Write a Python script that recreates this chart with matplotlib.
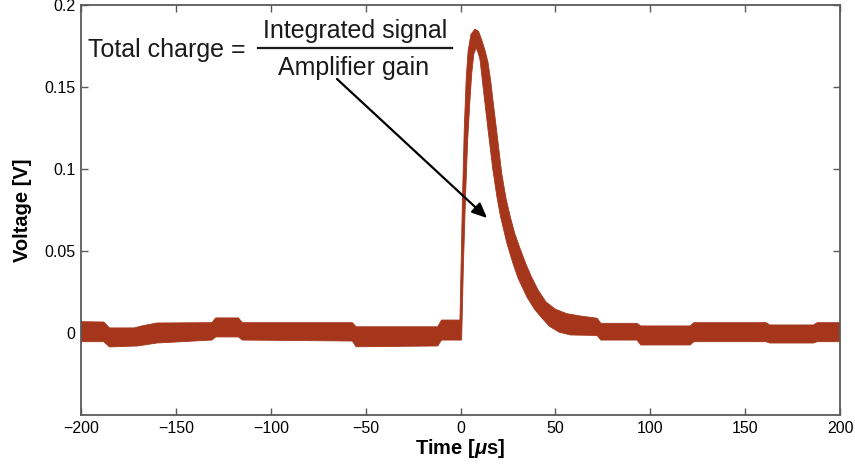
import matplotlib
matplotlib.use("Agg")
import matplotlib.pyplot as plt
from matplotlib.lines import Line2D

plt.rcParams['font.family'] = ['Liberation Sans', 'DejaVu Sans']
plt.rcParams['mathtext.fontset'] = 'custom'
plt.rcParams['mathtext.it'] = 'Liberation Sans:bold:italic'
plt.rcParams['mathtext.rm'] = 'Liberation Sans:bold'

# Upper and lower edges of the recorded pulse band (time in µs, voltage in V)
time_upper = [-200, -188, -185, -172, -168, -160, -131, -129, -117, -115, -57, -55,
              -12, -10, -0.3, 0.3, 1.0, 2.0, 3.0, 4.0, 5.5, 7.6, 9.5, 11.2, 13.0,
              14.5, 16.0, 17.1, 19.2, 21.7, 24.0, 26.1, 28.5, 31.4, 34.5, 37.5,
              41.0, 45.0, 50.0, 56.0, 63.0, 72.0, 74, 93, 95, 121, 123, 161, 163,
              186, 188, 200]
volt_upper = [0.0069, 0.0067, 0.0031, 0.0031, 0.0043, 0.0061, 0.0063, 0.0092,
              0.0092, 0.0063, 0.0063, 0.0038, 0.0038, 0.0079, 0.0079, 0.040,
              0.080, 0.125, 0.155, 0.172, 0.182, 0.1853, 0.184, 0.1787, 0.172,
              0.165, 0.153, 0.142, 0.122, 0.0975, 0.082, 0.0715, 0.061, 0.0515,
              0.042, 0.034, 0.026, 0.019, 0.0145, 0.0118, 0.0104, 0.009, 0.0059,
              0.0059, 0.0043, 0.0043, 0.0063, 0.0063, 0.0049, 0.0049, 0.0063,
              0.0063]

time_lower = [-200, -188, -185, -170, -160, -131, -129, -117, -115, -57, -55,
              -12, -10, 0.6, 1.5, 2.7, 3.8, 5.0, 5.9, 7.0, 8.3, 9.5, 10.3, 12.4,
              14.5, 17.0, 19.2, 21.0, 24.5, 27.5, 30.3, 35.0, 39.0, 43.0, 47.0,
              52.0, 58.0, 72, 74, 93, 95, 121, 123, 161, 163, 186, 188, 200]
volt_lower = [-0.0053, -0.0053, -0.0085, -0.0079, -0.0061, -0.0043, -0.0024,
              -0.0024, -0.0043, -0.0049, -0.0084, -0.0079, -0.0043, -0.0043,
              0.040, 0.085, 0.118, 0.142, 0.158, 0.170, 0.174, 0.170, 0.1665,
              0.145, 0.124, 0.100, 0.083, 0.0715, 0.0545, 0.043, 0.0335, 0.022,
              0.0145, 0.009, 0.004, 0.0005, -0.0012, -0.0015, -0.0043, -0.0043,
              -0.0073, -0.0073, -0.0053, -0.0053, -0.0061, -0.0061, -0.0053,
              -0.0053]

x_ticks = [-200, -150, -100, -50, 0, 50, 100, 150, 200]
x_tick_labels = ['\u2212200', '\u2212150', '\u2212100', '\u221250', '0', '50', '100', '150', '200']
y_ticks = [0, 0.05, 0.1, 0.15, 0.2]
y_tick_labels = ['0', '0.05', '0.1', '0.15', '0.2']

trace_color = '#a5361b'
frame_color = '#5a5a5a'

fig = plt.figure(figsize=(8.55, 4.68), dpi=100)
ax = fig.add_axes([81 / 855, 1 - 415 / 468, 759 / 855, 410 / 468])

# Band of the noisy trace as a closed polygon: upper edge forward, lower edge back
poly_t = list(time_upper) + list(time_lower[::-1])
poly_v = list(volt_upper) + list(volt_lower[::-1])
ax.fill(poly_t, poly_v, color=trace_color, linewidth=0.6, edgecolor=trace_color, zorder=2)

ax.set_xlim(-200, 200)
ax.set_ylim(-0.05, 0.2)
ax.set_xticks(x_ticks)
ax.set_xticklabels(x_tick_labels)
ax.set_yticks(y_ticks)
ax.set_yticklabels(y_tick_labels)
ax.tick_params(direction='in', length=5, width=1.0, color=frame_color,
               labelsize=11.5, top=True, right=True, pad=4)
for s in ax.spines.values():
    s.set_color(frame_color)
    s.set_linewidth(1.3)

ax.set_xlabel('Time [$\\mu$s]', fontsize=14.5, fontweight='bold', labelpad=1)
ax.set_ylabel('Voltage [V]', fontsize=14.5, fontweight='bold', labelpad=9)

# Charge formula with a fraction bar
ax.text(-196.3, 0.1685, 'Total charge =', fontsize=18, ha='left', va='baseline',
        color='#1a1a1a')
ax.text(-55.6, 0.1797, 'Integrated signal', fontsize=18, ha='center', va='baseline',
        color='#1a1a1a')
ax.text(-56.1, 0.1573, 'Amplifier gain', fontsize=18, ha='center', va='baseline',
        color='#1a1a1a')
ax.add_line(Line2D([-106.7, -4.5], [0.1736, 0.1736], color='#1a1a1a', linewidth=1.6))

ax.annotate('', xy=(14.0, 0.0701), xytext=(-65.1, 0.1549),
            arrowprops=dict(arrowstyle='-|>,head_length=0.9,head_width=0.4',
                            color='black', linewidth=1.6, shrinkA=0, shrinkB=0))

fig.savefig('out.png', dpi=100)
